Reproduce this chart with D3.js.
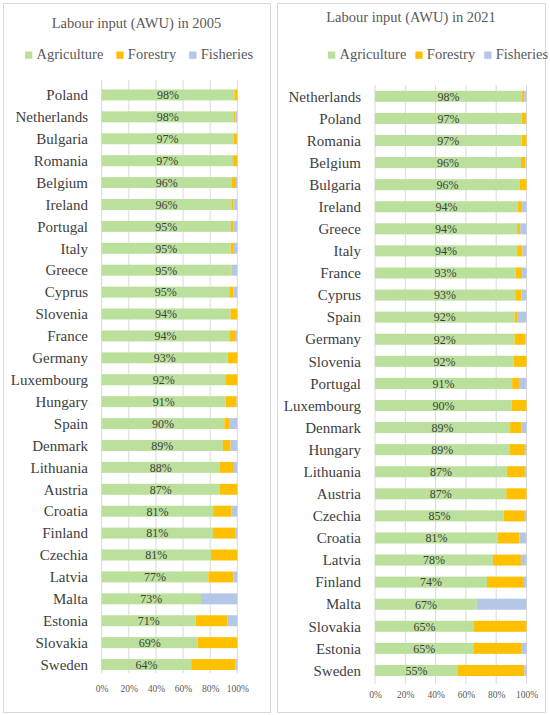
<!DOCTYPE html>
<html>
<head>
<meta charset="utf-8">
<script src="https://cdn.jsdelivr.net/npm/d3@7"></script>
<style>
  body { margin: 0; background: #fff; }
  svg text { font-family: 'Liberation Serif', 'DejaVu Serif', serif; }
</style>
</head>
<body>
<div id="chart"></div>
<script>
// ---- data --------------------------------------------------------------
var keys = ["Agriculture", "Forestry", "Fisheries"];
var colors = ["#bbe09c", "#ffc000", "#b4c7e7"];
var ticks = [0, 0.2, 0.4, 0.6, 0.8, 1];

// 2005 (share of labour input, %)
var countries2005 = ["Poland", "Netherlands", "Bulgaria", "Romania", "Belgium", "Ireland",
  "Portugal", "Italy", "Greece", "Cyprus", "Slovenia", "France", "Germany", "Luxembourg",
  "Hungary", "Spain", "Denmark", "Lithuania", "Austria", "Croatia", "Finland", "Czechia",
  "Latvia", "Malta", "Estonia", "Slovakia", "Sweden"];
var agri2005   = [98, 98, 97, 97, 96, 96, 95, 95, 95, 95, 94, 94, 93, 92, 91, 90, 89, 88, 87, 81, 81, 81, 77, 73, 71, 69, 64];
var forest2005 = [2.2, 1, 2.5, 3.2, 2.9, 1.7, 2, 2.4, 0.7, 2.7, 4.8, 4.2, 7.2, 8.4, 7.9, 3.5, 5.7, 10.4, 12.8, 13.5, 16.5, 19.5, 18, 0, 23.9, 28.5, 31.8];
var fish2005   = [0, 1.5, 0.3, 0, 1, 2.7, 2.7, 2.5, 4.2, 2.7, 0.2, 1.7, 0, 0, 0.5, 6, 4.9, 2.5, 0, 4.1, 1.2, 0, 2.9, 26.7, 7.6, 0, 1.2];

// 2021
var countries2021 = ["Netherlands", "Poland", "Romania", "Belgium", "Bulgaria", "Ireland",
  "Greece", "Italy", "France", "Cyprus", "Spain", "Germany", "Slovenia", "Portugal",
  "Luxembourg", "Denmark", "Hungary", "Lithuania", "Austria", "Czechia", "Croatia",
  "Latvia", "Finland", "Malta", "Slovakia", "Estonia", "Sweden"];
var agri2021   = [98, 97, 97, 96, 96, 94, 94, 94, 93, 93, 92, 92, 92, 91, 90, 89, 89, 87, 87, 85, 81, 78, 74, 67, 65, 65, 55];
var forest2021 = [1.6, 2.9, 3.3, 3, 4.4, 2.8, 2, 3.6, 4.1, 4, 2.2, 7.2, 8.4, 5.1, 9.7, 7.3, 10.3, 11.9, 13.4, 13.9, 14.1, 18.5, 24.4, 0, 34.5, 31.5, 44];
var fish2021   = [1.5, 0.2, 0, 0.7, 0, 2.9, 4.2, 2.6, 2.9, 3.5, 5.7, 0.7, 0, 4.4, 0, 3.5, 1.1, 1.1, 0, 1.1, 4.6, 3.7, 1.7, 32.7, 0, 3.6, 1.4];

// ---- layout ------------------------------------------------------------
var W = 550, H = 715;
var FONT = "'Liberation Serif', 'DejaVu Serif', serif";
var svg = d3.select("#chart").append("svg").attr("width", W).attr("height", H)
  .attr("font-family", FONT);

var panels = [
  { title: "Labour input (AWU) in 2005", countries: countries2005, agri: agri2005, forest: forest2005, fish: fish2005,
    box: [3, 3, 267, 709], titleY: 27.5, legendX: 25, legendGap: 13, legendY: 59,
    x0: 101.7, x1: 237.3, y0: 84, y1: 675.5, gridTop: 80, gridBottom: 673, tickY: 691, labelX: 88 },
  { title: "Labour input (AWU) in 2021", countries: countries2021, agri: agri2021, forest: forest2021, fish: fish2021,
    box: [277, 3, 268, 709], titleY: 21.5, legendX: 328, legendGap: 9, legendY: 59,
    x0: 375, x1: 526.5, y0: 85.3, y1: 681.5, gridTop: 85, gridBottom: 684, tickY: 697, labelX: 361 }
];

panels.forEach(drawPanel);

function drawPanel(p) {
  var g = svg.append("g");

  g.append("rect")
    .attr("x", p.box[0] + 0.5).attr("y", p.box[1] + 0.5)
    .attr("width", p.box[2]).attr("height", p.box[3])
    .attr("fill", "#fff").attr("stroke", "#d9d9d9");

  g.append("text")
    .attr("x", p.box[0] + p.box[2] / 2).attr("y", p.titleY)
    .attr("text-anchor", "middle")
    .attr("font-family", FONT)
    .attr("font-size", 14.5).attr("fill", "#595959")
    .text(p.title);

  // legend
  var lx = p.legendX;
  keys.forEach(function(k, i) {
    g.append("rect")
      .attr("x", lx).attr("y", p.legendY - 7.5)
      .attr("width", 7.3).attr("height", 7.3)
      .attr("fill", colors[i]);
    var t = g.append("text")
      .attr("x", lx + 11.5).attr("y", p.legendY)
      .attr("font-family", FONT)
      .attr("font-size", 14.5).attr("fill", "#595959")
      .text(k);
    lx += 11.5 + t.node().getComputedTextLength() + p.legendGap;
  });

  var rows = p.countries.map(function(c, i) {
    return { country: c, Agriculture: p.agri[i], Forestry: p.forest[i], Fisheries: p.fish[i] };
  });

  var x = d3.scaleLinear().domain([0, 1]).range([p.x0, p.x1]);
  var y = d3.scaleBand().domain(p.countries).range([p.y0, p.y1])
    .paddingInner(0.5).paddingOuter(0.25);
  var color = d3.scaleOrdinal().domain(keys).range(colors);

  // gridlines
  g.append("g").selectAll("line").data(ticks).join("line")
    .attr("x1", function(d) { return x(d); }).attr("x2", function(d) { return x(d); })
    .attr("y1", p.gridTop).attr("y2", p.gridBottom)
    .attr("stroke", "#d9d9d9").attr("stroke-width", 1);

  var series = d3.stack().keys(keys).offset(d3.stackOffsetExpand)(rows);

  g.append("g").selectAll("g").data(series).join("g")
    .attr("fill", function(d) { return color(d.key); })
    .selectAll("rect").data(function(d) { return d; }).join("rect")
      .attr("x", function(d) { return x(d[0]); })
      .attr("y", function(d) { return y(d.data.country); })
      .attr("width", function(d) { return Math.max(0, x(d[1]) - x(d[0])); })
      .attr("height", y.bandwidth());

  // value labels centred on the agriculture segment
  g.append("g").selectAll("text").data(series[0]).join("text")
    .attr("x", function(d) { return (x(d[0]) + x(d[1])) / 2; })
    .attr("y", function(d) { return y(d.data.country) + y.bandwidth() / 2; })
    .attr("dy", "0.36em")
    .attr("text-anchor", "middle")
    .attr("font-family", FONT)
    .attr("font-size", 12).attr("fill", "#404040")
    .text(function(d) { return d.data.Agriculture + "%"; });

  // category labels
  g.append("g").selectAll("text").data(p.countries).join("text")
    .attr("x", p.labelX)
    .attr("y", function(d) { return y(d) + y.bandwidth() / 2; })
    .attr("dy", "0.35em")
    .attr("text-anchor", "end")
    .attr("font-family", FONT)
    .attr("font-size", 15).attr("fill", "#404040")
    .text(function(d) { return d; });

  // x axis
  var ax = g.append("g")
    .attr("transform", "translate(0," + (p.tickY - 6) + ")")
    .call(d3.axisBottom(x).tickValues(ticks).tickFormat(d3.format(".0%")).tickSize(0).tickPadding(0));
  ax.select(".domain").remove();
  ax.attr("font-family", FONT).attr("font-size", 9.5);
  ax.selectAll("text").attr("fill", "#595959");
}
</script>
</body>
</html>
